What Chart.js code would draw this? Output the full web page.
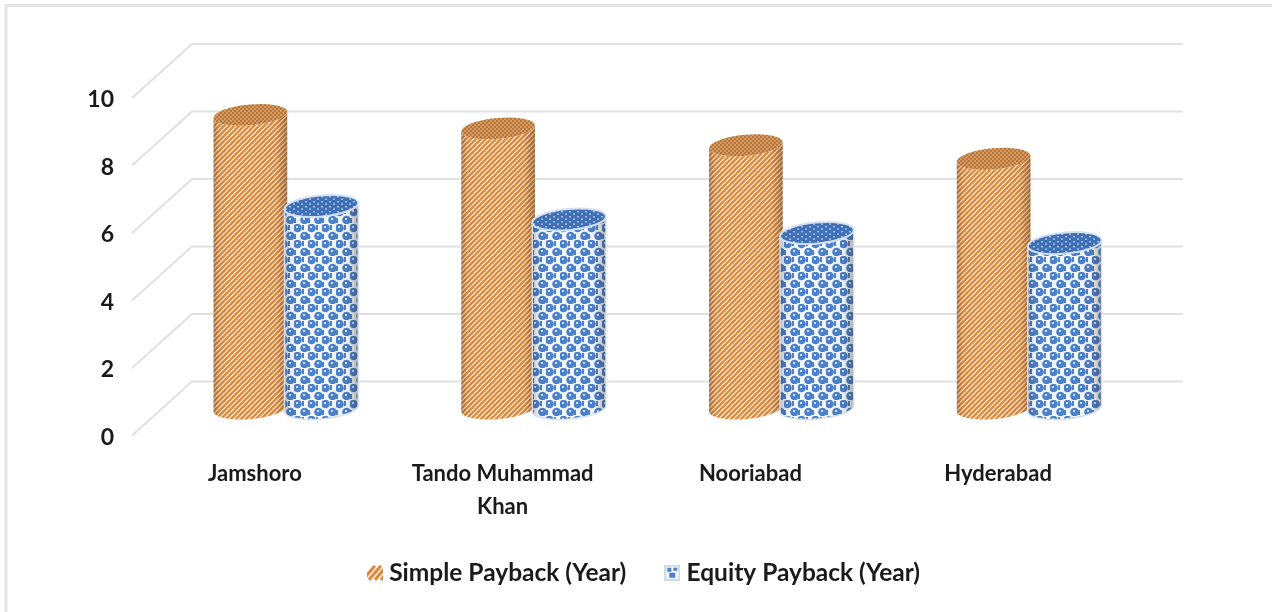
<!DOCTYPE html>
<html>
<head>
<meta charset="utf-8">
<title>Payback period by location</title>
<script src="https://cdn.jsdelivr.net/npm/chart.js@4"></script>
<style>
  html, body { margin: 0; padding: 0; background: #fff; }
  canvas { display: block; }
</style>
</head>
<body>
<canvas id="chart" width="1275" height="612"></canvas>
<script>
const locations = ['Jamshoro', ['Tando Muhammad', 'Khan'], 'Nooriabad', 'Hyderabad'];
const simplePayback = [8.7, 8.3, 7.8, 7.4];
const equityPayback = [6.0, 5.6, 5.2, 4.9];
const yearTicks = [0, 2, 4, 6, 8, 10];

const FONT = "Lato, 'Liberation Sans', sans-serif";
const TEXT = '#1a1a1a';
const GRID = '#e1e1e1';

// Tile helper: paints a small canvas and returns it
function tile(w, h, paint) {
  const c = document.createElement('canvas');
  c.width = w; c.height = h;
  paint(c.getContext('2d'), w, h);
  return c;
}
const patternOf = c => document.createElement('canvas').getContext('2d').createPattern(c, 'repeat');

// Diagonal orange stripes for the cylinder wall
const stripeTile = tile(5, 5, (g, w, h) => {
  g.fillStyle = '#fef2e4';
  g.fillRect(0, 0, w, h);
  g.strokeStyle = '#df8a3a';
  g.lineWidth = 2.3;
  for (let i = -1; i <= 1; i++) {
    g.beginPath();
    g.moveTo(i * w - 1, h + 1);
    g.lineTo(i * w + w + 1, -1);
    g.stroke();
  }
});
// Fine weave for the orange top face
const stripeCapTile = tile(4, 4, (g, w, h) => {
  g.fillStyle = '#d49a62';
  g.fillRect(0, 0, w, h);
  g.fillStyle = '#b8773a';
  g.fillRect(0, 0, 2, 2);
  g.fillRect(2, 2, 2, 2);
});
// Blue blobs and white panels for the second series
const dotTile = tile(14, 16, (g, w, h) => {
  g.fillStyle = '#f4f9fe';
  g.fillRect(0, 0, w, h);
  g.fillStyle = '#4a80cc';
  g.beginPath(); g.arc(3.5, 4, 4.3, 0, Math.PI * 2); g.fill();
  g.beginPath(); g.arc(10.5, 12, 4.3, 0, Math.PI * 2); g.fill();
  g.fillRect(0, 10, 2, 5);
  g.fillRect(8, 1, 2, 5);
  g.fillStyle = '#cfe2f6';
  g.fillRect(2, 2, 2, 2);
  g.fillRect(9, 10, 2, 2);
});
// Tighter lattice for the blue top face
const dotCapTile = tile(8, 5, (g, w, h) => {
  g.fillStyle = '#3f70b5';
  g.fillRect(0, 0, w, h);
  g.fillStyle = '#a9c6e6';
  g.fillRect(1, 1, 2, 1.4);
  g.fillRect(5, 3.4, 2, 1.4);
});

// Legend swatches: small square samples of each series fill
const swatch = (base, paint) => tile(16, 16, (g, w, h) => {
  g.fillStyle = base;
  g.fillRect(0, 0, w, h);
  paint(g, w, h);
});
const stripeSwatch = swatch('#fff', g => {
  g.strokeStyle = '#dd8436';
  g.lineWidth = 3;
  for (const o of [4, 10, 16, 22]) {
    g.beginPath(); g.moveTo(o - 8, 15); g.lineTo(o + 4, 1); g.stroke();
  }
});
const dotSwatch = swatch('#cfdcec', g => {
  g.fillStyle = '#f4f8fc';
  g.fillRect(2, 2, 12, 12);
  g.fillStyle = '#4a80cc';
  g.fillRect(3, 3, 4, 4);
  g.fillRect(9, 3, 4, 3);
  g.fillRect(5, 8, 6, 5);
});

const wallShade = (ctx, left, right) => {
  const s = ctx.createLinearGradient(left, 0, right, 0);
  s.addColorStop(0, 'rgba(50,35,20,0.30)');
  s.addColorStop(0.08, 'rgba(50,35,20,0.06)');
  s.addColorStop(0.3, 'rgba(255,255,255,0)');
  s.addColorStop(0.85, 'rgba(50,35,20,0.04)');
  s.addColorStop(1, 'rgba(50,35,20,0.34)');
  return s;
};

// Draws each bar element as an upright cylinder at the element's own geometry.
// All series are painted here, first to last, so the later one sits in front.
const cylinders = {
  id: 'cylinders',
  beforeDatasetsDraw(chart) {
    const { ctx } = chart;
    const TILT = -0.09, RY = 10.5;
    chart.data.datasets.forEach((ds, i) => {
      chart.getDatasetMeta(i).data.forEach(bar => {
        const { x, y, base, width } = bar.getProps(['x', 'y', 'base', 'width'], true);
        const rx = width / 2;
        ctx.save();
        ctx.beginPath();
        ctx.ellipse(x, base, rx, RY, TILT, 0, Math.PI);
        ctx.ellipse(x, y, rx, RY, TILT, Math.PI, 0, true);
        ctx.closePath();
        ctx.fillStyle = ds.backgroundColor;
        ctx.fill();
        ctx.fillStyle = wallShade(ctx, x - rx, x + rx);
        ctx.fill();
        if (ds.edgeColor) {
          ctx.strokeStyle = ds.edgeColor;
          ctx.lineWidth = 1.5;
          ctx.stroke();
        }
        ctx.beginPath();
        ctx.ellipse(x, y, rx, RY, TILT, 0, Math.PI * 2);
        ctx.fillStyle = ds.capFill;
        ctx.fill();
        if (ds.edgeColor) {
          ctx.strokeStyle = ds.edgeColor;
          ctx.lineWidth = 2;
          ctx.stroke();
        }
        ctx.restore();
      });
    });
  },
  beforeDatasetDraw() {
    return false;
  }
};

// Back wall lines, side wall diagonals and the frame around the figure
const walls = {
  id: 'walls',
  afterLayout(chart) {
    // Legend is centred under the whole figure, not under the plot
    chart.legend.left += 30;
    chart.legend.right += 30;
  },
  beforeDatasetsDraw(chart) {
    const { ctx, chartArea, scales } = chart;
    const DX = 30, DY = 27;
    ctx.save();
    ctx.strokeStyle = '#e4e4e4';
    ctx.lineWidth = 3;
    ctx.beginPath();
    ctx.moveTo(6, 612);
    ctx.lineTo(6, 5.5);
    ctx.lineTo(1272, 5.5);
    ctx.stroke();
    ctx.strokeStyle = GRID;
    ctx.lineWidth = 2;
    ctx.beginPath();
    yearTicks.forEach(v => {
      const py = scales.y.getPixelForValue(v);
      ctx.moveTo(chartArea.left - DX, py + DY);
      ctx.lineTo(chartArea.left + DX, py - DY);
      ctx.lineTo(chartArea.right + DX, py - DY);
    });
    ctx.stroke();
    ctx.restore();
  }
};

const addMarkers = chart => Chart.defaults.plugins.legend.labels.generateLabels(chart)
  .map((item, i) => ({ ...item, pointStyle: [stripeSwatch, dotSwatch][i] }));

new Chart(document.getElementById('chart'), {
  type: 'bar',
  data: {
    labels: locations,
    datasets: [
      {
        label: 'Simple Payback (Year)',
        data: simplePayback,
        backgroundColor: patternOf(stripeTile),
        capFill: patternOf(stripeCapTile),
        categoryPercentage: 0.573,
        barPercentage: 1.042
      },
      {
        label: 'Equity Payback (Year)',
        data: equityPayback,
        backgroundColor: patternOf(dotTile),
        capFill: patternOf(dotCapTile),
        edgeColor: 'rgba(214,226,240,0.95)',
        categoryPercentage: 0.573,
        barPercentage: 1.042
      }
    ]
  },
  options: {
    responsive: false,
    animation: false,
    layout: { padding: { top: 71, right: 122, bottom: 17, left: 80 } },
    scales: {
      x: {
        grid: { display: false, drawTicks: false },
        border: { display: false },
        afterFit: s => { s.height = 108; },
        ticks: {
          padding: 49,
          labelOffset: -31,
          maxRotation: 0,
          autoSkip: false,
          color: TEXT,
          font: { family: FONT, size: 22, weight: 'bold', lineHeight: 1.5 }
        }
      },
      y: {
        min: 0,
        max: 10,
        grid: { display: false, drawTicks: false },
        border: { display: false },
        afterFit: s => { s.width = 82; },
        afterBuildTicks: s => { s.ticks = yearTicks.map(value => ({ value })); },
        ticks: {
          padding: 48,
          labelOffset: 29,
          color: TEXT,
          font: { family: FONT, size: 23, weight: 'bold' }
        }
      }
    },
    plugins: {
      tooltip: { enabled: false },
      legend: {
        position: 'bottom',
        labels: {
          usePointStyle: true,
          pointStyleWidth: 4,
          padding: 44,
          color: TEXT,
          font: { family: FONT, size: 24.5, weight: 'bold' },
          generateLabels: addMarkers
        }
      }
    }
  },
  plugins: [walls, cylinders]
});
</script>
</body>
</html>
